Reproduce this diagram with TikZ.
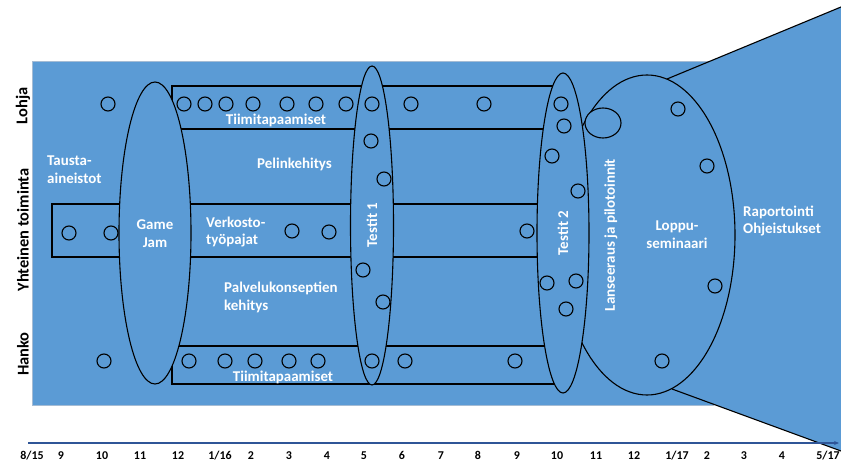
\documentclass[tikz,border=0pt]{standalone}
\usepackage{fontspec}
\setmainfont{Carlito}
\usetikzlibrary{shapes.geometric,arrows.meta}
\definecolor{bluefill}{RGB}{91,155,213}
\definecolor{rectedge}{RGB}{165,188,212}
\definecolor{axisblue}{RGB}{47,85,151}
\begin{document}
\begin{tikzpicture}[x=1bp,y=-1bp,
  lbl/.style={text=white, font=\fontsize{15}{18}\selectfont\bfseries, inner sep=0, align=left},
  clbl/.style={text=white, font=\fontsize{15}{18}\selectfont\bfseries, inner sep=0, align=center},
  rowlbl/.style={font=\fontsize{16.5}{19}\selectfont\bfseries, rotate=90, inner sep=0},
  ticklbl/.style={font=\fontsize{12}{14}\selectfont\bfseries, inner sep=0, anchor=base},
  dot/.style={circle, draw, line width=1.1bp, minimum size=14bp, inner sep=0, fill=bluefill},
  oval/.style={ellipse, draw, line width=1.1bp, fill=bluefill, inner sep=0, outer sep=0},
  bar/.style={draw, line width=1.1bp, fill=bluefill, inner sep=0, outer sep=0, anchor=north west}]
\useasboundingbox (0,0) rectangle (841,465);
% background panel
\node[draw=rectedge, line width=0.8bp, fill=bluefill, minimum width=681bp, minimum height=344bp, anchor=north west, inner sep=0, outer sep=0] (bg) at (32,61) {};
% funnel
\coordinate (lc) at (647,235);
\coordinate (lt) at (667,79);
\coordinate (lb) at (672,389);
\coordinate (tr) at (841,7);
\coordinate (br) at (841,451);
\fill[bluefill] (lc) -- (lt) -- (tr) -- (br) -- (lb) -- cycle;
% bars
\node[bar, minimum width=383bp, minimum height=43bp] (lohjabar) at (172,86) {};
\node[bar, minimum width=493bp, minimum height=53bp] (midbar) at (52,204) {};
\node[bar, minimum width=383bp, minimum height=38bp] (hankobar) at (172,346) {};
% ovals
\node[oval, minimum width=176bp, minimum height=320bp] (loppu) at (647,235) {};
\node[oval, minimum width=72bp, minimum height=302bp] (gamejam) at (155,233) {};
\node[oval, minimum width=43bp, minimum height=319bp] (testit1) at (372,225.5) {};
\node[oval, minimum width=52bp, minimum height=320bp] (testit2) at (563,233) {};
\node[oval, minimum width=36bp, minimum height=30bp] (launch) at (603,123) {};
% funnel edges
\draw[line width=1.1bp] (lt) -- (tr);
\draw[line width=1.1bp] (lb) -- (br);
% Lohja row dots
\foreach \x [count=\i] in {108,184,205,226,253,287,316,346,372,411,484,561}
  \node[dot] (l\i) at (\x,104) {};
% Hanko row dots
\foreach \x [count=\i] in {104,189,225,255,289,318,372,405,515}
  \node[dot] (h\i) at (\x,361) {};
% middle row dots
\node[dot] (m1) at (69,233) {};
\node[dot] (m2) at (111,233) {};
\node[dot] (m3) at (292,231) {};
\node[dot] (m4) at (329,232) {};
\node[dot] (m5) at (527,231) {};
% Testit 1 dots
\node[dot] (t1a) at (371,141) {};
\node[dot] (t1b) at (384,179) {};
\node[dot] (t1c) at (363,270) {};
\node[dot] (t1d) at (383,302) {};
% Testit 2 dots
\node[dot] (t2a) at (564,126) {};
\node[dot] (t2b) at (552,156) {};
\node[dot] (t2c) at (578,191) {};
\node[dot] (t2d) at (547,283) {};
\node[dot] (t2e) at (576,281) {};
\node[dot] (t2f) at (566,309) {};
% Loppuseminaari dots
\node[dot] (s1) at (678,109) {};
\node[dot] (s2) at (707,166) {};
\node[dot] (s3) at (715,286) {};
\node[dot] (s4) at (662,361) {};
% texts
\node[lbl, anchor=west] (tausta) at (47,170) {Tausta-\\aineistot};
\node[clbl] (gjtxt) at (155,234) {Game\\Jam};
\node[lbl, anchor=west] (verk) at (206,232) {Verkosto-\\työpajat};
\node[lbl, anchor=west] (peli) at (257,164) {Pelinkehitys};
\node[lbl, anchor=west] (palv) at (224,297) {Palvelukonseptien\\kehitys};
\node[lbl] (tiimi1) at (276,120) {Tiimitapaamiset};
\node[lbl] (tiimi2) at (283,377) {Tiimitapaamiset};
\node[lbl, rotate=90] (t1txt) at (372,225) {Testit 1};
\node[lbl, rotate=90] (t2txt) at (563,233) {Testit 2};
\node[lbl, rotate=90] (lanstxt) at (611,235) {Lanseeraus ja pilotoinnit};
\node[clbl] (lopptxt) at (677,235) {Loppu-\\seminaari};
\node[lbl, anchor=west] (rap) at (743,221) {Raportointi\\Ohjeistukset};
% row labels
\node[rowlbl] (lohja) at (23,106) {Lohja};
\node[rowlbl] (yht) at (23,230) {Yhteinen toiminta};
\node[rowlbl] (hanko) at (23,354) {Hanko};
% time axis
\coordinate (a0) at (28,443);
\coordinate (a1) at (839,443);
\draw[axisblue, line width=1.2bp, -{Stealth[length=5bp,width=4bp]}] (a0) -- (a1);
\foreach \x/\t [count=\i] in {32/8\slash 15,61/9,102/10,140/11,178/12,220/1\slash 16,251/2,289/3,327/4,364/5,402/6,441/7,478/8,517/9,557/10,596/11,634/12,677/1\slash 17,707/2,744/3,782/4,828/5\slash 17}
  \node[ticklbl] (tk\i) at (\x,459.5) {\t};
\end{tikzpicture}
\end{document}
